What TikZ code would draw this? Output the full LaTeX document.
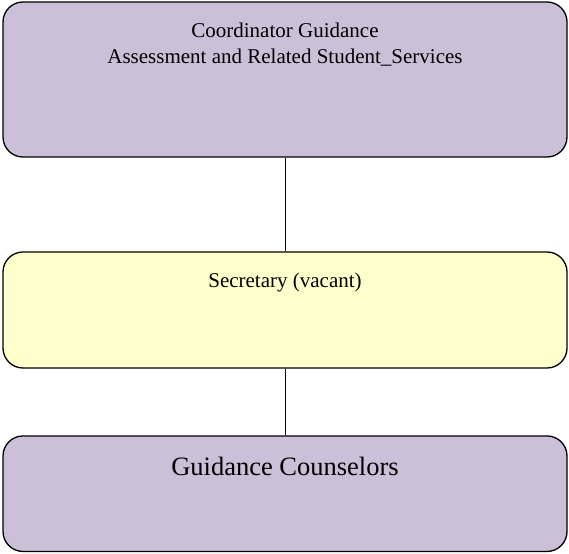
\documentclass[tikz,border=0pt]{standalone}
\usepackage{fontspec}
\setmainfont{Liberation Serif}
\definecolor{lilac}{HTML}{CCBFD8}
\definecolor{paleyellow}{HTML}{FFFFCC}
\begin{document}
\begin{tikzpicture}[x=1pt,y=-1pt,
  box/.style={draw=black, line width=1.3pt, rounded corners=20pt, minimum width=564pt, inner sep=0pt},
  lbl/.style={anchor=base, inner sep=0pt, align=center}]
\useasboundingbox (0,0) rectangle (569,553);
\node[box, fill=lilac, minimum height=155pt] (coord) at (285,79.5) {};
\node[box, fill=paleyellow, minimum height=116pt] (sec) at (285,310) {};
\node[box, fill=lilac, minimum height=115.5pt] (couns) at (285,493.7) {};
\draw[line width=1pt] (coord.south) -- (sec.north);
\draw[line width=1pt] (sec.south) -- (couns.north);
\node[lbl, font=\fontsize{21}{25}\selectfont] (t1) at (285,38) {Coordinator Guidance};
\node[lbl, font=\fontsize{21}{25}\selectfont] (t2) at (285,64) {Assessment and Related Student\_Services};
\node[lbl, font=\fontsize{21}{25}\selectfont] (t3) at (285,287.3) {Secretary (vacant)};
\node[lbl, font=\fontsize{26.5}{30}\selectfont] (t4) at (285,475.7) {Guidance Counselors};
\end{tikzpicture}
\end{document}
